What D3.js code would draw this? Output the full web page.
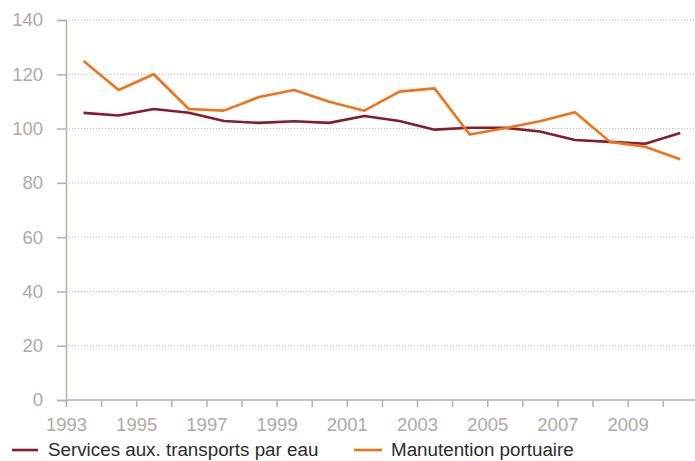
<!DOCTYPE html>
<html>
<head>
<meta charset="utf-8">
<script src="https://cdn.jsdelivr.net/npm/d3@7"></script>
<style>
  html, body { margin: 0; padding: 0; background: #fff; }
  svg { display: block; font-family: "Liberation Sans", Arial, sans-serif; }
</style>
</head>
<body>
<svg id="chart" width="695" height="461"></svg>
<script>
// Years (each value is plotted in the middle of its year)
const years = [1993, 1994, 1995, 1996, 1997, 1998, 1999, 2000, 2001,
               2002, 2003, 2004, 2005, 2006, 2007, 2008, 2009, 2010];
const servicesAux = [105.8, 104.8, 107.2, 105.8, 102.8, 102.1, 102.7, 102.1, 104.6,
                     102.8, 99.6, 100.3, 100.3, 98.9, 95.8, 95.1, 94.4, 98.4];
const manutention = [124.9, 114.2, 120.0, 107.2, 106.6, 111.6, 114.2, 109.9, 106.6,
                     113.6, 114.8, 97.8, 100.1, 102.7, 106.0, 95.1, 93.3, 88.7];
const yTicks = [0, 20, 40, 60, 80, 100, 120, 140];
const xLabelYears = [1993, 1995, 1997, 1999, 2001, 2003, 2005, 2007, 2009];
const seriesNames = ["Services aux. transports par eau", "Manutention portuaire"];

const svg = d3.select("#chart");
const axisColor = "#b9aea4";
const labelColor = "#b3a89e";

const x = d3.scaleLinear().domain([1993, 2011]).range([66, 697.8]);
const y = d3.scaleLinear().domain([0, 140]).range([400, 20]);

// Horizontal dotted gridlines
svg.append("g")
  .selectAll("line")
  .data(yTicks.filter(d => d > 0))
  .join("line")
  .attr("x1", 66).attr("x2", 695)
  .attr("y1", d => y(d)).attr("y2", d => y(d))
  .attr("stroke", "#b5b5b5")
  .attr("stroke-width", 1)
  .attr("stroke-dasharray", "1,2");

// Y axis
const yAxis = svg.append("g")
  .attr("transform", "translate(66,0)")
  .call(d3.axisLeft(y).tickValues(yTicks).tickSize(9).tickPadding(14));
yAxis.select(".domain").attr("stroke", axisColor).attr("stroke-width", 1.5);
yAxis.selectAll(".tick line").attr("stroke", axisColor).attr("stroke-width", 1.5);
yAxis.selectAll(".tick text")
  .attr("fill", labelColor)
  .attr("font-size", 18.5)
  .attr("font-family", "Liberation Sans, Arial, sans-serif");

// X axis: a tick per year, labels every other year
const xAxis = svg.append("g")
  .attr("transform", `translate(0,${y(0)})`)
  .call(d3.axisBottom(x)
    .tickValues(d3.range(1993, 2011))
    .tickSize(7)
    .tickPadding(11)
    .tickFormat(d => xLabelYears.includes(d) ? String(d) : ""));
xAxis.select(".domain").attr("stroke", axisColor).attr("stroke-width", 1.5)
  .attr("d", `M66,0H695`);
xAxis.selectAll(".tick line").attr("stroke", axisColor).attr("stroke-width", 1.5);
xAxis.selectAll(".tick text")
  .attr("fill", labelColor)
  .attr("font-size", 18.5)
  .attr("font-family", "Liberation Sans, Arial, sans-serif");

// Lines
const colors = ["#861b2d", "#f07318"];
const line = d3.line()
  .x((d, i) => x(years[i] + 0.5))
  .y(d => y(d));

[servicesAux, manutention].forEach((vals, k) => {
  svg.append("path")
    .datum(vals)
    .attr("fill", "none")
    .attr("stroke", colors[k])
    .attr("stroke-width", 2.6)
    .attr("stroke-linejoin", "round")
    .attr("d", line);
});

// Legend
const legendItems = [
  { x1: 12, x2: 38, tx: 48 },
  { x1: 354, x2: 382, tx: 391 }
];
legendItems.forEach((it, k) => {
  svg.append("line")
    .attr("x1", it.x1).attr("x2", it.x2)
    .attr("y1", 450).attr("y2", 450)
    .attr("stroke", colors[k]).attr("stroke-width", 2.6);
  svg.append("text")
    .attr("x", it.tx).attr("y", 456)
    .attr("fill", "#2b2b2b")
    .attr("font-size", 18.8)
    .text(seriesNames[k]);
});
</script>
</body>
</html>
